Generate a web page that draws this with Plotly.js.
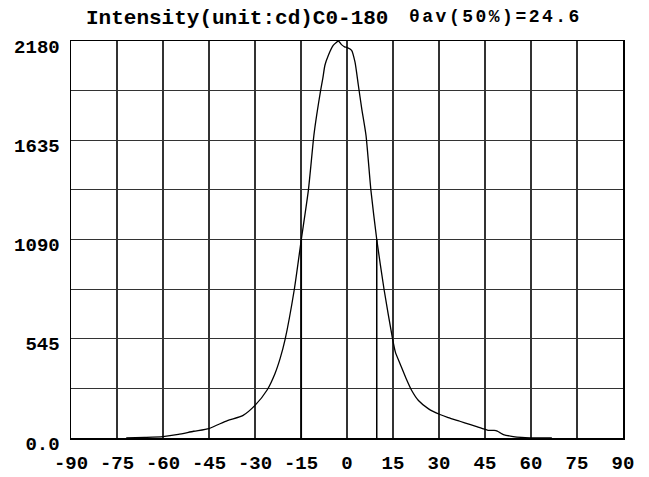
<!DOCTYPE html>
<html>
<head>
<meta charset="utf-8">
<script src="https://cdn.plot.ly/plotly-3.0.1.min.js"></script>
<style>html,body{margin:0;padding:0;background:#fff;}#chart{width:649px;height:477px;}</style>
</head>
<body>
<div id="chart"></div>
<script>
const angles = [-72, -66, -60, -55, -50, -45, -39, -34, -30, -26, -23.5, -21.8, -20.2, -17.2, -14.9, -12.6, -10.8, -9.9, -8.6, -7.9, -7.2, -6.1, -4.5, -3.5, -2.8, -1.8, -0.8, 0.1, 1.5, 2.6, 3.7, 4.8, 6.2, 7.8, 9.7, 12.1, 14.9, 15.8, 17.3, 19.2, 21.1, 23.3, 26.6, 30.3, 33, 36.8, 40, 42.3, 44.5, 46, 48, 49, 50, 51, 54.2, 57, 59.7, 63, 66.8];
const intensity = [0, 3, 8, 20, 37, 52, 96, 123, 179, 265, 353, 437, 540, 814, 1090, 1360, 1662, 1772, 1909, 1973, 2047, 2101, 2156, 2172, 2180, 2160, 2148, 2144, 2129, 2065, 1937, 1809, 1662, 1360, 1090, 814, 540, 470, 408, 330, 261, 206, 160, 129, 112, 92, 75, 63, 50, 42, 42, 38, 28, 19, 8, 3, 1, 0, 0];
const halfAngles = [-14.9, 9.7];
const halfValue = 1090;
const xTickVals = [-90, -75, -60, -45, -30, -15, 0, 15, 30, 45, 60, 75, 90];
const yTickVals = [0, 272.5, 545, 817.5, 1090, 1362.5, 1635, 1907.5, 2180];
const yTickText = ['0.0', '', '545', '', '1090', '', '1635', '', '2180'];
const titleMain = 'Intensity(unit:cd)C0-180';
const titleSub = 'θav(50%)=24.6';

const font = 'Liberation Mono, Courier New, monospace';
const traces = [
  {x: angles, y: intensity, mode: 'lines', line: {color: '#000', width: 1.3, shape: 'spline', smoothing: 0.6}, hoverinfo: 'skip'}
];
halfAngles.forEach(a => traces.push({x: [a, a], y: [0, halfValue], mode: 'lines', line: {color: '#000', width: 1.5}, hoverinfo: 'skip'}));

const layout = {
  width: 649, height: 477,
  margin: {l: 71, r: 26, t: 41, b: 39},
  paper_bgcolor: '#fff', plot_bgcolor: '#fff',
  showlegend: false,
  xaxis: {range: [-90, 90], tickvals: xTickVals, ticktext: xTickVals.map(String), showgrid: true, gridcolor: '#333', gridwidth: 1.2,
          zeroline: false, showline: true, mirror: true, linecolor: '#000', linewidth: 1.5, ticks: '', ticklabelstandoff: 7,
          tickfont: {family: font, size: 19, color: '#000', weight: 'bold'}, fixedrange: true},
  yaxis: {range: [0, 2180], tickvals: yTickVals, ticktext: yTickText, showgrid: true, gridcolor: '#333', gridwidth: 1.2,
          zeroline: false, showline: true, mirror: true, linecolor: '#000', linewidth: 1.5, ticks: '', ticklabelstandoff: 6,
          ticklabelshift: 5,
          tickfont: {family: font, size: 19, color: '#000', weight: 'bold'}, fixedrange: true},
  annotations: [
    {text: titleMain, xref: 'paper', yref: 'paper', x: 0.024, y: 1, yshift: 23, xanchor: 'left', yanchor: 'middle', showarrow: false,
     font: {family: font, size: 21, color: '#000', weight: 'bold'}},
    {text: '<span style="letter-spacing:2.5px">' + titleSub + '</span>', xref: 'paper', yref: 'paper', x: 0.608, y: 1, yshift: 24, xanchor: 'left', yanchor: 'middle', showarrow: false,
     font: {family: font, size: 18, color: '#000', weight: 'bold'}}
  ]
};
Plotly.newPlot('chart', traces, layout, {staticPlot: true, displayModeBar: false});
</script>
</body>
</html>
